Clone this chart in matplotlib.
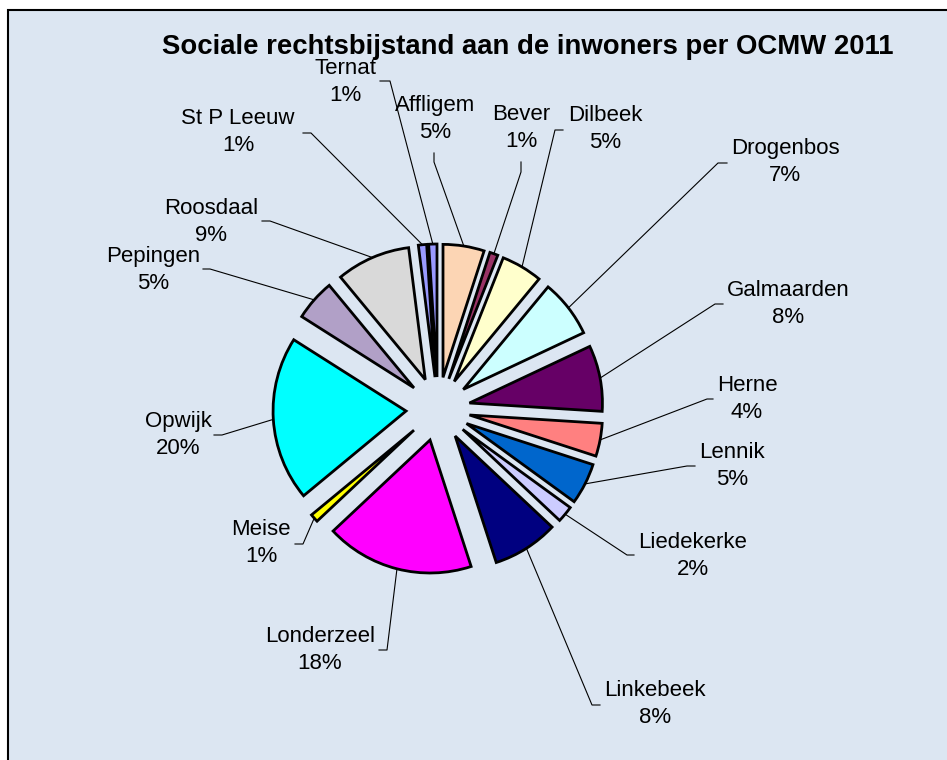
import matplotlib
matplotlib.use("Agg")
import matplotlib.pyplot as plt
from matplotlib.patches import Rectangle
import numpy as np

plt.rcParams['font.family'] = ['Liberation Sans', 'DejaVu Sans']

# gemeenten in volgorde (met de klok mee, vanaf 12 uur)
gemeenten = ["Affligem", "Bever", "Dilbeek", "Drogenbos", "Galmaarden", "Herne",
             "Lennik", "Liedekerke", "Linkebeek", "Londerzeel", "Meise", "Opwijk",
             "Pepingen", "Roosdaal", "St P Leeuw", "Ternat"]
aandeel = [5, 1, 5, 7, 8, 4, 5, 2, 8, 18, 1, 20, 5, 9, 1, 1]
kleuren = ["#FCD5B4", "#993366", "#FFFFCC", "#CCFFFF", "#660066", "#FF8080",
           "#0066CC", "#CCCCFF", "#000080", "#FF00FF", "#FFFF00", "#00FFFF",
           "#B1A0C7", "#D9D9D9", "#9999FF", "#9999FF"]

# plaats van de labels (pixels vanaf linksboven): tekst, knik, einde streepje
label_pos = [(435, 119), (521, 128), (605, 129), (785, 162), (788, 304), (747, 399),
             (732, 466), (693, 556), (655, 704), (320, 650), (261, 543), (178, 435),
             (153, 270), (211, 222), (238, 132), (345, 82)]
knik = [(434, 162), (521, 172), (555, 130), (718, 163), (715, 304), (707, 399),
        (687, 466), (627, 555), (592, 705), (387, 650), (303, 544), (222, 435),
        (210, 269), (270, 221), (311, 133), (390, 81)]
streep = [(434, 153), (521, 162), (563, 130), (727, 163), (723, 304), (713, 399),
          (695, 466), (634, 555), (600, 705), (379, 650), (295, 544), (214, 435),
          (203, 269), (262, 221), (303, 133), (380, 81)]

W, H = 947, 760
fig = plt.figure(figsize=(W / 100, H / 100), dpi=100)
ax = fig.add_axes([0, 0, 1, 1])

ax.add_patch(Rectangle((8, -10), W + 20, H - 10 + 10, facecolor="#DCE6F2",
                       edgecolor="black", linewidth=1.5, zorder=0))

# explode is in data-eenheden (pixels hier)
wedges, _ = ax.pie(aandeel, colors=kleuren, startangle=90, counterclock=False,
                   explode=[32] * len(aandeel), radius=133, center=(438, H - 409),
                   wedgeprops=dict(edgecolor="black", linewidth=2))

for w, naam, p, tp, k, s in zip(wedges, gemeenten, aandeel, label_pos, knik, streep):
    mid = np.deg2rad((w.theta1 + w.theta2) / 2)
    cx, cy = w.center
    rand = (cx + w.r * np.cos(mid), cy + w.r * np.sin(mid))
    ax.plot([rand[0], k[0], s[0]], [rand[1], H - k[1], H - s[1]],
            color="black", linewidth=0.8, zorder=1)
    ax.text(tp[0], H - tp[1], f"{naam}\n{p}%", ha="center", va="center",
            fontsize=16, linespacing=1.35, multialignment="center", zorder=3)

ax.text(528, H - 47, "Sociale rechtsbijstand aan de inwoners per OCMW 2011",
        ha="center", va="center", fontsize=19.8, fontweight="bold")

ax.set_xlim(0, W)
ax.set_ylim(0, H)
ax.set_aspect("equal")
ax.axis("off")
fig.savefig("out.png", dpi=100)
